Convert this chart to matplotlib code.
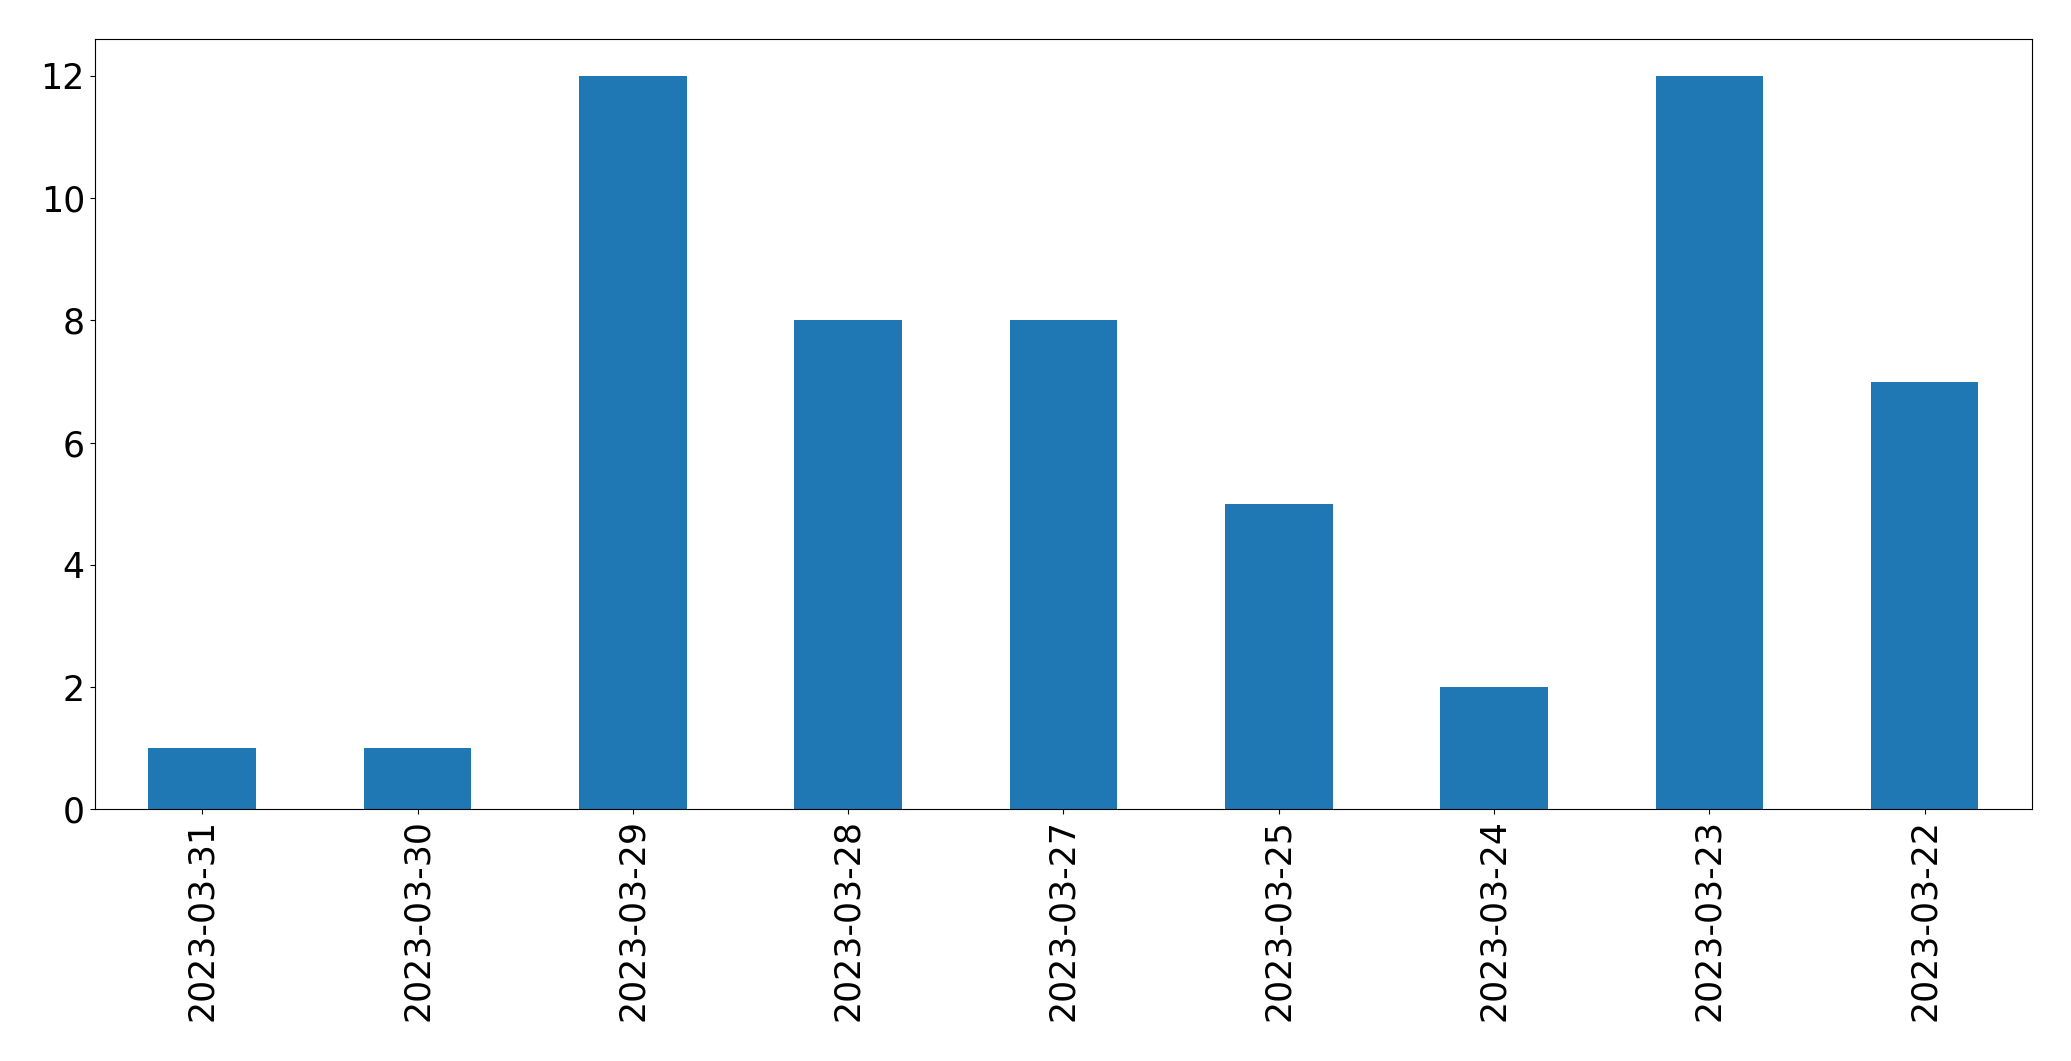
import pandas as pd
import matplotlib.pyplot as plt

# daily counts, newest first (as in the reference)
dates = ["2023-03-31", "2023-03-30", "2023-03-29", "2023-03-28", "2023-03-27",
         "2023-03-25", "2023-03-24", "2023-03-23", "2023-03-22"]
counts = [1, 1, 12, 8, 8, 5, 2, 12, 7]

s = pd.Series(counts, index=dates)

fig, ax = plt.subplots(figsize=(20.71, 10.61), dpi=100)
s.plot(kind="bar", ax=ax, color="#1f77b4", fontsize=25)
ax.tick_params(axis="x", labelrotation=90)
fig.subplots_adjust(left=0.0457, right=0.9813, bottom=0.2372, top=0.963)
fig.savefig("out.png", dpi=100)
plt.close()
